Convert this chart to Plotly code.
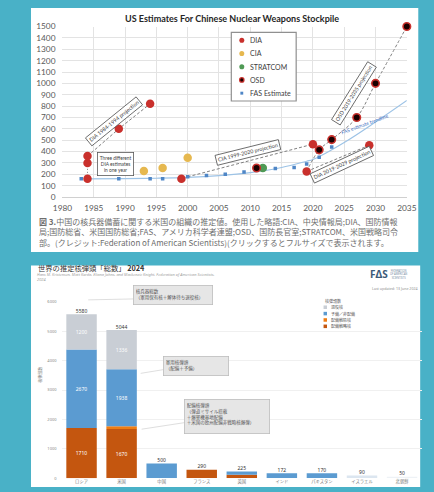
import plotly.graph_objects as go

W, H = 434, 492

# ---------------- Top chart data ----------------
dia_x = [1984, 1984, 1984, 1989, 1994, 1999, 2019, 2020, 2029]
dia_y = [160, 300, 360, 600, 820, 160, 225, 465, 455]
cia_x = [1993, 1996, 2000]
cia_y = [230, 255, 345]
strat_x = [2012]
strat_y = [255]
osd_x = [2011, 2021, 2023, 2027, 2030, 2035]
osd_y = [255, 415, 505, 700, 1000, 1500]
fas_x = [1983, 1989, 1994, 1996, 1999, 2000, 2003, 2006, 2009, 2014, 2017, 2019, 2021, 2023]
fas_y = [160, 160, 160, 160, 160, 178, 190, 200, 220, 250, 260, 290, 350, 440]
trend_x = [1984, 1990, 1995, 2000, 2005, 2010, 2015, 2019, 2020, 2025, 2030, 2035]
trend_y = [160, 162, 165, 172, 188, 215, 260, 315, 330, 480, 660, 850]
proj_dia84_x = [1984, 1989, 1994]
proj_dia84_y = [360, 600, 820]
dia84_stack_x = [1984, 1984]
dia84_stack_y = [160, 360]
proj_cia_x = [2000, 2020]
proj_cia_y = [178, 465]
proj_osd_x = [2019, 2021, 2023, 2027, 2030, 2035]
proj_osd_y = [225, 415, 505, 700, 1000, 1500]
proj_dia19_x = [2019, 2029]
proj_dia19_y = [225, 455]

# ---------------- Bottom chart data ----------------
countries = ["ロシア", "米国", "中国", "フランス", "英国", "インド", "パキスタン", "イスラエル", "北朝鮮"]
deployed_strategic = [1710, 1670, 0, 290, 120, 0, 0, 0, 0]
deployed_nonstrategic = [0, 100, 0, 0, 0, 0, 0, 0, 0]
reserve = [2670, 1938, 500, 0, 105, 172, 170, 90, 50]
retired = [1200, 1336, 0, 0, 0, 0, 0, 0, 0]
totals = [5580, 5044, 500, 290, 225, 172, 170, 90, 50]


def px(x):
    return x / W


def py(y):
    return 1 - y / H


TEAL = "#49B1C7"
RED = "#C9302C"
GOLD = "#E6B84F"
GREEN = "#4F9A55"
BLUE_PT = "#4F86C6"
DEP = "#C4560F"
NONSTRAT = "#F07D12"
RES = "#5B9BD1"
RET = "#C9CED5"

fig = go.Figure()

# ---- top chart traces ----
dash_line = dict(color="#808080", width=1, dash="3px,2px")
fig.add_trace(go.Scatter(x=trend_x, y=trend_y, mode="lines", line=dict(color="#9DC3E6", width=1.2, shape="spline"),
                         xaxis="x", yaxis="y", hoverinfo="skip"))
fig.add_trace(go.Scatter(x=proj_dia84_x, y=proj_dia84_y, mode="lines", line=dash_line, xaxis="x", yaxis="y"))
fig.add_trace(go.Scatter(x=dia84_stack_x, y=dia84_stack_y, mode="lines",
                         line=dict(color="#808080", width=1, dash="1px,2px"), xaxis="x", yaxis="y"))
fig.add_trace(go.Scatter(x=proj_cia_x, y=proj_cia_y, mode="lines", line=dash_line, xaxis="x", yaxis="y"))
fig.add_trace(go.Scatter(x=proj_osd_x, y=proj_osd_y, mode="lines", line=dict(dash_line, shape="spline"),
                         xaxis="x", yaxis="y"))
fig.add_trace(go.Scatter(x=proj_dia19_x, y=proj_dia19_y, mode="lines", line=dash_line, xaxis="x", yaxis="y"))

fig.add_trace(go.Scatter(name="FAS Estimate", x=fas_x, y=fas_y, mode="markers",
                         marker=dict(symbol="square", size=3.5, color=BLUE_PT), xaxis="x", yaxis="y"))
fig.add_trace(go.Scatter(name="CIA", x=cia_x, y=cia_y, mode="markers",
                         marker=dict(size=8.5, color=GOLD), xaxis="x", yaxis="y"))
fig.add_trace(go.Scatter(name="STRATCOM", x=strat_x, y=strat_y, mode="markers",
                         marker=dict(size=8.5, color=GREEN), xaxis="x", yaxis="y"))
fig.add_trace(go.Scatter(name="DIA", x=dia_x, y=dia_y, mode="markers",
                         marker=dict(size=8.5, color=RED), xaxis="x", yaxis="y"))
fig.add_trace(go.Scatter(name="OSD", x=osd_x, y=osd_y, mode="markers", cliponaxis=False,
                         marker=dict(size=7.5, color="#1A0000", line=dict(color=RED, width=1.6)), xaxis="x", yaxis="y"))

# ---- bottom chart traces ----
def seg_text(vals, show):
    return [str(v) if s else "" for v, s in zip(vals, show)]


bar_common = dict(xaxis="x2", yaxis="y2", textposition="inside", insidetextanchor="middle",
                  textfont=dict(color="white", size=5, family="Noto Sans"), hoverinfo="skip")
fig.add_trace(go.Bar(name="配備戦略核", x=countries, y=deployed_strategic, marker=dict(color=DEP, line=dict(width=0)),
                     text=seg_text(deployed_strategic, [1, 1, 0, 0, 0, 0, 0, 0, 0]), **bar_common))
fig.add_trace(go.Bar(name="配備戦術核", x=countries, y=deployed_nonstrategic, marker=dict(color=NONSTRAT, line=dict(width=0)),
                     text=[""] * 9, **bar_common))
res_colors = [RES] * 7 + ["#DCE6F0", "#EEF2F6"]
fig.add_trace(go.Bar(name="予備/非配備", x=countries, y=reserve, marker=dict(color=res_colors, line=dict(width=0)),
                     text=seg_text(reserve, [1, 1, 0, 0, 0, 0, 0, 0, 0]), **bar_common))
fig.add_trace(go.Bar(name="退役核", x=countries, y=retired, marker=dict(color=RET, line=dict(width=0)),
                     text=seg_text(retired, [1, 1, 0, 0, 0, 0, 0, 0, 0]), **bar_common))
fig.add_trace(go.Scatter(x=countries, y=totals, mode="text", text=[str(t) for t in totals],
                         textposition="top center", textfont=dict(size=5, color="#333333", family="Noto Sans"),
                         xaxis="x2", yaxis="y2", hoverinfo="skip", cliponaxis=False))

shapes = []
annotations = []

# white panels
shapes.append(dict(type="rect", xref="paper", yref="paper", x0=px(22), x1=px(428), y0=py(252), y1=py(3),
                   fillcolor="white", line=dict(width=0), layer="below"))
shapes.append(dict(type="rect", xref="paper", yref="paper", x0=px(22), x1=px(430), y0=py(492), y1=py(266),
                   fillcolor="white", line=dict(width=0), layer="below"))


def ann(text, x, y, size, color, family, xanchor="center", **kw):
    d = dict(text=text, x=px(x), y=py(y), xref="paper", yref="paper", xanchor=xanchor, yanchor="middle",
             showarrow=False, font=dict(size=size, color=color, family=family))
    d.update(kw)
    annotations.append(d)


# top title
ann("<b>US Estimates For Chinese Nuclear Weapons Stockpile</b>", 233, 14, 9, "#262626", "Lato")

# top legend (manual)
shapes.append(dict(type="rect", xref="paper", yref="paper", x0=px(232), x1=px(300), y0=py(98), y1=py(28),
                   fillcolor="white", line=dict(color="#909090", width=1.2)))
leg_items = [("DIA", RED, None, 36), ("CIA", GOLD, None, 49.5), ("STRATCOM", GREEN, None, 63),
             ("OSD", "#1A0000", RED, 76.5), ("FAS Estimate", BLUE_PT, "sq", 90)]
for name, col, extra, yy in leg_items:
    if extra == "sq":
        shapes.append(dict(type="rect", xref="paper", yref="paper", x0=px(241.5), x1=px(244.5),
                           y0=py(yy + 1.5), y1=py(yy - 1.5), fillcolor=col, line=dict(width=0)))
    else:
        r = 2.6 if extra is None else 2.3
        shapes.append(dict(type="circle", xref="paper", yref="paper", x0=px(243 - r), x1=px(243 + r),
                           y0=py(yy + r), y1=py(yy - r), fillcolor=col,
                           line=dict(width=1.2 if extra else 0, color=extra if extra else col)))
    ann(name, 250, yy, 7, "#404040", "Lato", xanchor="left")

# top rotated labels
box_font = dict(size=5.3, color="#404040", family="Lato")
for txt, xx, yy, ang in [("DIA 1984-1994 projection", 1988.2, 665, -39),
                         ("CIA 1999-2020 projection", 2009.6, 388, -14),
                         ("OSD 2019-2035 projection", 2026.5, 915, -58),
                         ("DIA 2019-2029 projection", 2024.7, 282, -25)]:
    annotations.append(dict(text=txt, x=xx, y=yy, xref="x", yref="y", showarrow=False, textangle=ang,
                            font=box_font, bgcolor="white", bordercolor="#595959", borderwidth=0.8, borderpad=1.5))
annotations.append(dict(text="Three different<br>DIA estimates<br>in one year", x=1988.5, y=292, xref="x", yref="y",
                        showarrow=False, font=dict(size=4.8, color="#404040", family="Lato"), bgcolor="white",
                        bordercolor="#595959", borderwidth=0.8, borderpad=2))
annotations.append(dict(text="FAS estimate trendline", x=2028.3, y=640, xref="x", yref="y", showarrow=False,
                        textangle=-20, font=dict(size=5, color="#4472C4", family="Lato")))

# caption (one text block)
cap = ["<b>図 3.</b>中国の核兵器備蓄に関する米国の組織の推定値。使用した略語:CIA、中央情報局;DIA、国防情報",
       "局;国防総省、米国国防総省;FAS、アメリカ科学者連盟;OSD、国防長官室;STRATCOM、米国戦略司令",
       "部。(クレジット:Federation of American Scientists)(クリックするとフルサイズで表示されます。"]
ann("<br>".join(cap), 29, 232, 8.0, "#6E6E6E", "Noto Sans CJK JP", xanchor="left", align="left", borderpad=0)

# bottom title, subtitle
ann("世界の推定核弾頭「総数」 <b>2024</b>", 27, 268, 7.3, "#333333", "Noto Sans CJK JP", xanchor="left")
ann("<i>Hans M. Kristensen, Matt Korda, Eliana Johns, and Mackenzie Knight, Federation of American Scientists,</i>"
    "<br><i>2024</i>", 27, 277.5, 3.9, "#A0A0A0", "Noto Sans", xanchor="left", align="left", borderpad=0)
# FAS logo
ann("<b>FΔS</b>", 375, 275, 10, "#3B5A78", "Noto Sans", xanchor="left")
ann("FEDERATION<br>OF AMERICAN<br>SCIENTISTS", 396, 275, 2.6, "#7A8FA6", "Noto Sans", xanchor="left")
ann("Last updated: 13 June 2024", 430, 289, 3.6, "#909090", "Noto Sans", xanchor="right")

# bottom legend (manual)
ann("核弾頭数", 328, 302, 4, "#555555", "Noto Sans CJK JP", xanchor="left")
for name, col, yy in [("退役核", RET, 308.5), ("予備／非配備", RES, 315), ("配備戦術核", NONSTRAT, 321.5),
                      ("配備戦略核", DEP, 328)]:
    shapes.append(dict(type="rect", xref="paper", yref="paper", x0=px(328.7), x1=px(332.3),
                       y0=py(yy + 1.8), y1=py(yy - 1.8), fillcolor=col, line=dict(width=0)))
    ann(name, 334, yy, 4, "#555555", "Noto Sans CJK JP", xanchor="left")

# y axis title bottom
ann("核弾頭数", 32, 378, 4, "#777777", "Noto Sans CJK JP", textangle=-90)

# bottom callout boxes and connectors
callouts = [("核兵器総数<br>（軍用保有核＋解体待ち退役核）", 171, 296.5, 74, 14, (131, 300, 82, 301)),
            ("軍用核弾頭<br>（配備＋予備）", 195, 368, 60, 14, (162, 372, 137, 376)),
            ("配備核弾頭<br>（弾道ミサイル搭載<br>＋爆撃機基地配備<br>＋米国の欧州配備非戦略核爆弾）", 228, 420.5, 80, 29,
             (185, 426, 138, 433))]
for txt, cx, cy, w, h, ln in callouts:
    ann(txt, cx, cy, 4.5, "#555555", "Noto Sans CJK JP", width=w, height=h, align="left", valign="top",
        bgcolor="#E6E6E6", bordercolor="#BDBDBD", borderwidth=0.8, borderpad=2)
    shapes.append(dict(type="line", xref="paper", yref="paper", x0=px(ln[0]), y0=py(ln[1]), x1=px(ln[2]),
                       y1=py(ln[3]), line=dict(color="#D5D5D5", width=0.8)))

fig.update_layout(
    width=W, height=H, autosize=False, margin=dict(l=0, r=0, t=0, b=0),
    paper_bgcolor=TEAL, plot_bgcolor="rgba(0,0,0,0)", showlegend=False,
    barmode="relative", bargap=0.24,
    xaxis=dict(domain=[px(55), px(416)], range=[1980, 2035], dtick=5, tick0=1980, showgrid=True,
               gridcolor="#E3E3E3", gridwidth=1, zeroline=False, showline=True, linecolor="#D0D0D0",
               ticks="", tickfont=dict(size=8.3, color="#595959", family="Lato"), anchor="y",
               ticklabelstandoff=3),
    yaxis=dict(domain=[py(196), py(22)], range=[0, 1500], dtick=100, showgrid=True, gridcolor="#E3E3E3",
               zeroline=False, ticks="", tickfont=dict(size=8.3, color="#595959", family="Lato"), anchor="x",
               ticklabelstandoff=6),
    xaxis2=dict(domain=[px(54), px(432)], type="category", showgrid=False, zeroline=False, showline=False,
                ticks="", tickfont=dict(size=4.3, color="#777777", family="Noto Sans CJK JP"), anchor="y2"),
    yaxis2=dict(domain=[py(483), py(303)], range=[0, 6000], dtick=1000, showgrid=True, gridcolor="#F0F0F0",
                zeroline=False, ticks="", tickfont=dict(size=4, color="#888888", family="Noto Sans"), anchor="x2",
                ticklabelstandoff=4),
    shapes=shapes, annotations=annotations,
)

fig.write_html("out.html", config={"displayModeBar": False},
               post_script="document.body.style.margin='0';document.body.style.overflow='hidden';"
                           "document.documentElement.style.overflow='hidden';")
